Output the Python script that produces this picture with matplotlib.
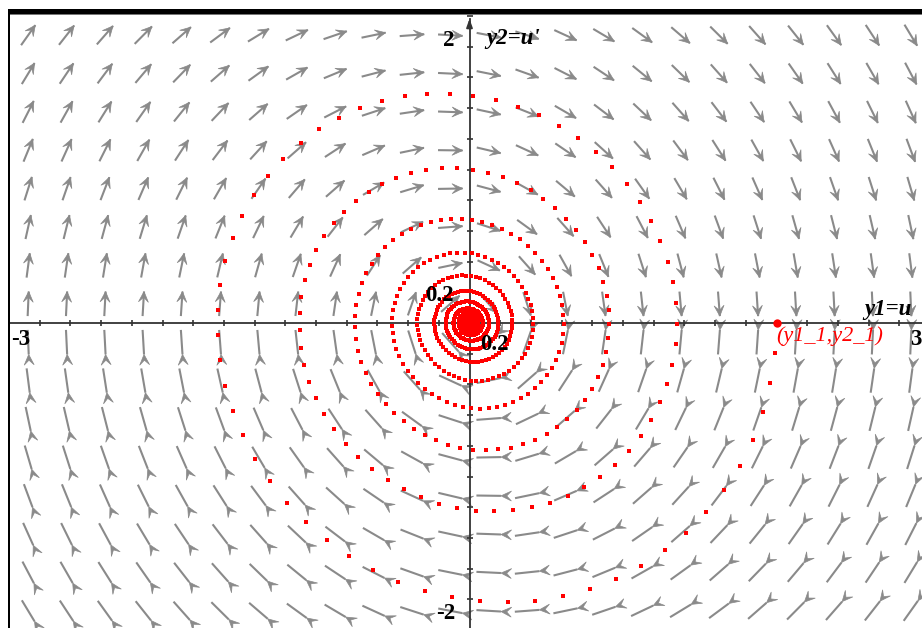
import numpy as np
import matplotlib.pyplot as plt
from matplotlib.collections import LineCollection, PolyCollection
from matplotlib.patches import Rectangle

plt.rcParams['font.family'] = ['Liberation Serif', 'DejaVu Serif']

# u'' + DAMP*u' + STIFF*u = 0  as  y1' = y2,  y2' = -STIFF*y1 - DAMP*y2
DAMP = 0.125
STIFF = 1.0
Y1_0, Y2_0 = 2.0, 0.0
T_STEP = 0.1
N_STEPS = 1000

# window and field grid
X_MIN, X_MAX = -3.0, 3.0
Y_MIN, Y_MAX = -2.0, 2.0
FIELD_X = [-2.875, -2.625, -2.375, -2.125, -1.875, -1.625, -1.375, -1.125,
           -0.875, -0.625, -0.375, -0.125, 0.125, 0.375, 0.625, 0.875,
           1.125, 1.375, 1.625, 1.875, 2.125, 2.375, 2.625, 2.875]
FIELD_Y = [-1.875, -1.625, -1.375, -1.125, -0.875, -0.625, -0.375, -0.125,
           0.125, 0.375, 0.625, 0.875, 1.125, 1.375, 1.625, 1.875]
TICK_STEP = 0.2

W, H = 922, 628
X0_PX, Y0_PX, SCALE = 469.5, 323.0, 153.5   # pixel of origin, px per unit
GRAY = '#8a8a8a'
RED = '#ff0000'


def deriv(y):
    return np.array([y[1], -STIFF * y[0] - DAMP * y[1]])


def solve():
    y = np.array([Y1_0, Y2_0])
    pts = [y]
    for _ in range(N_STEPS):
        k1 = deriv(y)
        k2 = deriv(y + 0.5 * T_STEP * k1)
        k3 = deriv(y + 0.5 * T_STEP * k2)
        k4 = deriv(y + T_STEP * k3)
        y = y + T_STEP / 6 * (k1 + 2 * k2 + 2 * k3 + k4)
        pts.append(y)
    return np.array(pts)


def field_arrows(length=0.16, head_len=0.068, head_w=0.032):
    segs, heads = [], []
    for cx in FIELD_X:
        for cy in FIELD_Y:
            f = deriv(np.array([cx, cy]))
            u = f / np.hypot(*f)
            n = np.array([-u[1], u[0]])
            c = np.array([cx, cy])
            a, b = c - u * length / 2, c + u * length / 2
            segs.append([a, b])
            # head always sits on the right-hand end, pointing along the flow
            tip = b if u[0] >= 0 else a
            back = tip - u * head_len
            notch = tip - u * head_len * 0.55
            heads.append([tip, back + n * head_w, notch, back - n * head_w])
    return segs, heads


fig = plt.figure(figsize=(W / 100, H / 100), dpi=100)
ax = fig.add_axes([9 / W, 0, (W - 9) / W, (H - 14) / H])
ax.set_xlim((9 - X0_PX) / SCALE, (W - X0_PX) / SCALE)
ax.set_ylim(-(H - Y0_PX) / SCALE, (Y0_PX - 14) / SCALE)
ax.axis('off')

segs, heads = field_arrows()
ax.add_collection(LineCollection(segs, colors=GRAY, linewidths=1.5, zorder=1))
ax.add_collection(PolyCollection(heads, facecolors=GRAY, edgecolors=GRAY,
                                 linewidths=0.5, zorder=1))

# axes with tick marks
axis_col = '#333333'
ax.plot([X_MIN, X_MAX + 0.1], [0, 0], color=axis_col, lw=1.3, zorder=2)
ax.plot([0, 0], [Y_MIN - 0.1, Y_MAX - 0.02], color=axis_col, lw=1.3, zorder=2)
ax.annotate('', xy=(0, Y_MAX), xytext=(0, Y_MAX - 0.1),
            arrowprops=dict(arrowstyle='-|>,head_length=0.5,head_width=0.18',
                            color=axis_col, lw=1.3), zorder=2)
xt = np.arange(X_MIN, X_MAX + 1e-9, TICK_STEP)
yt = np.arange(Y_MIN, Y_MAX + 1e-9, TICK_STEP)
ax.plot(xt, np.zeros_like(xt), ls='none', marker='|', ms=5, mew=1.2,
        color=axis_col, zorder=2)
ax.plot(np.zeros_like(yt), yt, ls='none', marker='_', ms=5, mew=1.2,
        color=axis_col, zorder=2)

# trajectory
traj = solve()
ax.plot(traj[:, 0], traj[:, 1], ls='none', marker='s', ms=3.3, mew=0,
        color=RED, zorder=3)
ax.plot([Y1_0], [Y2_0], 'o', ms=6, mew=0, color=RED, zorder=3)

# labels
fs = 16.5
lab = dict(fontsize=fs, weight='bold', va='center', zorder=4)
ax.text(-0.095, 1.84, '2', ha='right', **lab)
ax.text(0.11, 1.855, "y2=u'", style='italic', ha='left', **lab)
ax.text(-0.095, -1.89, '-2', ha='right', **lab)
ax.text(-2.985, -0.11, '-3', ha='left', **lab)
ax.text(2.87, -0.11, '3', ha='left', **lab)
ax.text(2.57, 0.085, 'y1=u', style='italic', ha='left', **lab)
ax.text(-0.105, 0.176, '0.2', ha='right', **lab)
ax.text(0.068, -0.137, '0.2', ha='left', **lab)
ax.text(1.995, -0.085, '(y1_1,y2_1)', fontsize=16, style='italic', color=RED,
        ha='left', va='center', zorder=4)

# window frame: thick bar on top, thin line on the left
fig.add_artist(Rectangle((8 / W, 1 - 14 / H), 1, 5 / H, transform=fig.transFigure,
                         color='black', lw=0))
fig.add_artist(Rectangle((8 / W, 1 - 15.3 / H), 1, 1.3 / H, transform=fig.transFigure,
                         color='#777777', lw=0))
fig.add_artist(Rectangle((8 / W, 0), 2 / W, 1 - 9 / H, transform=fig.transFigure,
                         color='black', lw=0))

fig.savefig('out.png', dpi=100)
